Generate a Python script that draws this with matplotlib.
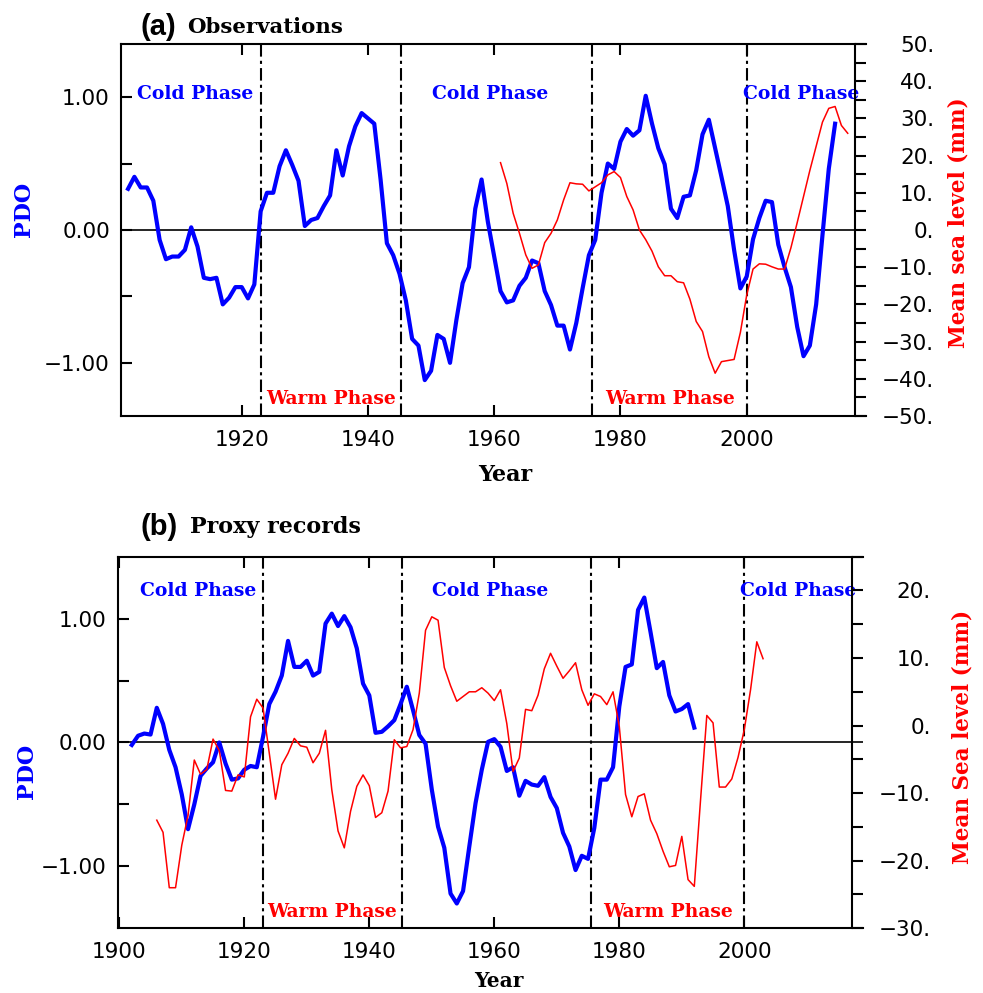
import numpy as np
import matplotlib
matplotlib.use('Agg')
import matplotlib.pyplot as plt
from matplotlib.ticker import FixedLocator, MultipleLocator, FuncFormatter

# ---- datos (a) Observaciones ----
anio_pdo_a = np.arange(1902, 2015)
pdo_a = [0.31, 0.40, 0.32, 0.32, 0.22, -0.075, -0.22, -0.20, -0.20, -0.15,
         0.02, -0.125, -0.36, -0.37, -0.36, -0.56, -0.51, -0.43, -0.43, -0.515,
         -0.41, 0.14, 0.28, 0.28, 0.48, 0.60, 0.49, 0.37, 0.03, 0.075,
         0.09, 0.18, 0.26, 0.60, 0.41, 0.63, 0.78, 0.88, 0.84, 0.80,
         0.38, -0.10, -0.19, -0.33, -0.53, -0.82, -0.87, -1.13, -1.06, -0.79,
         -0.82, -1.00, -0.68, -0.40, -0.28, 0.16, 0.38, 0.06, -0.20, -0.46,
         -0.545, -0.53, -0.42, -0.36, -0.23, -0.25, -0.46, -0.565, -0.72, -0.72,
         -0.90, -0.70, -0.44, -0.19, -0.075, 0.28, 0.50, 0.46, 0.665, 0.76,
         0.71, 0.75, 1.01, 0.80, 0.615, 0.495, 0.16, 0.09, 0.25, 0.26,
         0.45, 0.72, 0.83, 0.615, 0.40, 0.18, -0.15, -0.44, -0.35, -0.07,
         0.09, 0.22, 0.21, -0.11, -0.28, -0.43, -0.73, -0.95, -0.87, -0.56,
         -0.04, 0.46, 0.80]

anio_nm_a = np.arange(1961, 2017)
nm_a = [18.1, 12.5, 4.5, -0.9, -6.7, -10.3, -9.4, -3.4, -0.9, 2.7,
        8.1, 12.7, 12.4, 12.3, 10.5, 11.6, 12.7, 14.8, 15.7, 14.1,
        9.0, 5.4, 0.0, -2.6, -5.7, -9.9, -12.3, -12.3, -13.9, -14.2,
        -18.6, -24.6, -27.3, -34.1, -38.5, -35.4, -35.1, -34.8, -27.5, -17.5,
        -10.5, -9.1, -9.2, -9.9, -10.5, -10.5, -4.8, 2.0, 9.0, 16.0,
        22.5, 29.0, 32.7, 33.2, 28.1, 26.0]

# ---- datos (b) Registros proxy ----
anio_pdo_b = np.arange(1902, 1993)
pdo_b = [-0.02, 0.054, 0.072, 0.064, 0.28, 0.15, -0.06, -0.20, -0.42, -0.70,
         -0.50, -0.27, -0.21, -0.16, 0.00, -0.17, -0.30, -0.29, -0.22, -0.19,
         -0.20, 0.046, 0.31, 0.41, 0.54, 0.82, 0.61, 0.61, 0.66, 0.54,
         0.57, 0.96, 1.04, 0.94, 1.02, 0.93, 0.76, 0.475, 0.38, 0.078,
         0.086, 0.13, 0.18, 0.31, 0.45, 0.26, 0.06, -0.01, -0.38, -0.68,
         -0.85, -1.22, -1.30, -1.20, -0.84, -0.49, -0.22, 0.005, 0.027, -0.035,
         -0.23, -0.20, -0.43, -0.31, -0.34, -0.35, -0.28, -0.44, -0.53, -0.73,
         -0.84, -1.03, -0.915, -0.94, -0.69, -0.30, -0.30, -0.20, 0.29, 0.61,
         0.63, 1.07, 1.17, 0.89, 0.60, 0.65, 0.38, 0.25, 0.27, 0.31,
         0.12]

anio_nm_b = np.arange(1906, 2004)
nm_b = [-14.0, -15.8, -24.0, -24.0, -17.7, -13.3, -5.1, -7.2, -6.5, -2.0,
        -3.7, -9.6, -9.7, -7.3, -7.6, 1.3, 3.9, 2.6, -4.1, -10.9,
        -5.8, -4.1, -1.9, -3.0, -3.2, -5.5, -4.1, -0.7, -9.5, -15.6,
        -18.1, -12.7, -9.0, -7.3, -8.9, -13.6, -12.9, -9.7, -2.1, -3.3,
        -3.1, -0.6, 4.8, 14.1, 16.1, 15.6, 8.6, 5.9, 3.6, 4.3,
        5.0, 5.0, 5.6, 4.8, 3.7, 5.3, 0.3, -6.8, -4.8, 2.4,
        2.2, 4.5, 8.4, 10.7, 8.8, 7.0, 8.1, 9.3, 5.3, 3.0,
        4.7, 4.3, 3.1, 5.0, -0.15, -10.2, -13.5, -10.5, -10.1, -14.0,
        -16.0, -18.6, -20.9, -20.7, -16.4, -22.8, -23.8, -11.0, 1.5, 0.4,
        -9.1, -9.1, -7.9, -4.7, -0.6, 5.3, 12.4, 9.9]

cambios = [1923, 1945.3, 1975.5, 2000]
anios_x = [1900, 1920, 1940, 1960, 1980, 2000]
frio_x = [1912.6, 1959.4, 2008.6]
calido_x = [1934.1, 1987.8]

serif = 'DejaVu Serif'
plt.rcParams['font.family'] = 'DejaVu Sans'


def menos(v, fmt):
    return (fmt % v).replace('-', '\u2212')


def panel(fig, rect, xlim, ylim, ylim2, y2major, anio_pdo, pdo, anio_nm, nm,
          frio_y, calido_y, etiqueta_nm, pos_pdo, pos_nm, pos_year, year_size):
    ax = fig.add_axes(rect)
    ax.plot(anio_pdo, pdo, color='#0000ff', lw=3.0, zorder=3)
    ax.axhline(0, color='black', lw=1.2, zorder=2)
    for c in cambios:
        ax.axvline(c, color='black', lw=1.5, linestyle=(0, (6, 2, 1.5, 2)), zorder=2)
    ax.set_xlim(*xlim)
    ax.set_ylim(*ylim)
    ax.spines['right'].set_visible(False)
    for s in ['top', 'bottom', 'left']:
        ax.spines[s].set_linewidth(1.5)
    ax.xaxis.set_major_locator(FixedLocator(anios_x))
    ax.yaxis.set_major_locator(FixedLocator([-1, 0, 1]))
    ax.yaxis.set_minor_locator(FixedLocator([-0.5, 0.5]))
    ax.yaxis.set_major_formatter(FuncFormatter(lambda v, p: menos(v, '%.2f')))
    ax.tick_params(axis='both', which='both', direction='in', length=8, width=1.5,
                   top=True, right=False, labelsize=15.5)
    ax.tick_params(axis='x', pad=10)
    ax.tick_params(axis='y', pad=8)

    for x in frio_x:
        ax.text(x, frio_y, 'Cold Phase', color='#0000ff', ha='center', va='baseline',
                fontfamily=serif, fontweight='bold', fontsize=13.5, zorder=5)
    for x in calido_x:
        ax.text(x, calido_y, 'Warm Phase', color='#ff0000', ha='center', va='baseline',
                fontfamily=serif, fontweight='bold', fontsize=13.5, zorder=5)

    ax.text(pos_pdo[0], pos_pdo[1], 'PDO', transform=ax.transAxes, rotation=90,
            ha='center', va='center', color='#0000ff', fontfamily=serif,
            fontweight='bold', fontsize=16)
    ax.text(pos_year[0], pos_year[1], 'Year', transform=ax.transAxes,
            ha='center', va='center', color='black', fontfamily=serif,
            fontweight='bold', fontsize=year_size)

    ax2 = ax.twinx()
    ax2.plot(anio_nm, nm, color='#ff0000', lw=1.1, zorder=4)
    ax2.set_ylim(*ylim2)
    for s in ['top', 'bottom', 'left']:
        ax2.spines[s].set_visible(False)
    ax2.spines['right'].set_position(('axes', 0.9852))
    ax2.spines['right'].set_linewidth(1.5)
    ax2.yaxis.set_major_locator(MultipleLocator(y2major))
    ax2.yaxis.set_minor_locator(MultipleLocator(5))
    ax2.yaxis.set_major_formatter(FuncFormatter(lambda v, p: menos(v, '%d.')))
    ax2.tick_params(axis='y', which='both', direction='out', length=8, width=1.5,
                    labelsize=15.5, pad=49)
    ax2.text(pos_nm[0], pos_nm[1], etiqueta_nm, transform=ax.transAxes, rotation=90,
             ha='center', va='center', color='#ff0000', fontfamily=serif,
             fontweight='bold', fontsize=15.5)
    fig.canvas.draw()
    for t in ax2.get_yticklabels():
        t.set_horizontalalignment('right')
    return ax, ax2


fig = plt.figure(figsize=(9.83, 9.93), dpi=100)

panel(fig, [0.1231, 0.5811, 0.7579, 0.3746], (1900.88, 2018.9), (-1.4, 1.4), (-50, 50), 10,
      anio_pdo_a, pdo_a, anio_nm_a, nm_a, 0.987, -1.311, 'Mean sea level (mm)',
      (-0.130, 0.555), (1.1235, 0.520), (0.515, -0.159), 16)

panel(fig, [0.1197, 0.0652, 0.7579, 0.3742], (1899.74, 2018.94), (-1.5, 1.5), (-30, 25), 10,
      anio_pdo_b, pdo_b, anio_nm_b, nm_b, 1.186, -1.409, 'Mean Sea level (mm)',
      (-0.122, 0.423), (1.1346, 0.515), (0.512, -0.143), 14.5)

fig.text(140 / 983, 1 - 35 / 993, '(a)', fontfamily='Liberation Sans', fontweight='bold',
         fontsize=21, va='baseline')
fig.text(187 / 983, 1 - 33 / 993, 'Observations', fontfamily=serif, fontweight='bold',
         fontsize=15.3, va='baseline')
fig.text(140 / 983, 1 - 535 / 993, '(b)', fontfamily='Liberation Sans', fontweight='bold',
         fontsize=21, va='baseline')
fig.text(190 / 983, 1 - 533 / 993, 'Proxy records', fontfamily=serif, fontweight='bold',
         fontsize=16, va='baseline')

fig.savefig('out.png', dpi=100)
